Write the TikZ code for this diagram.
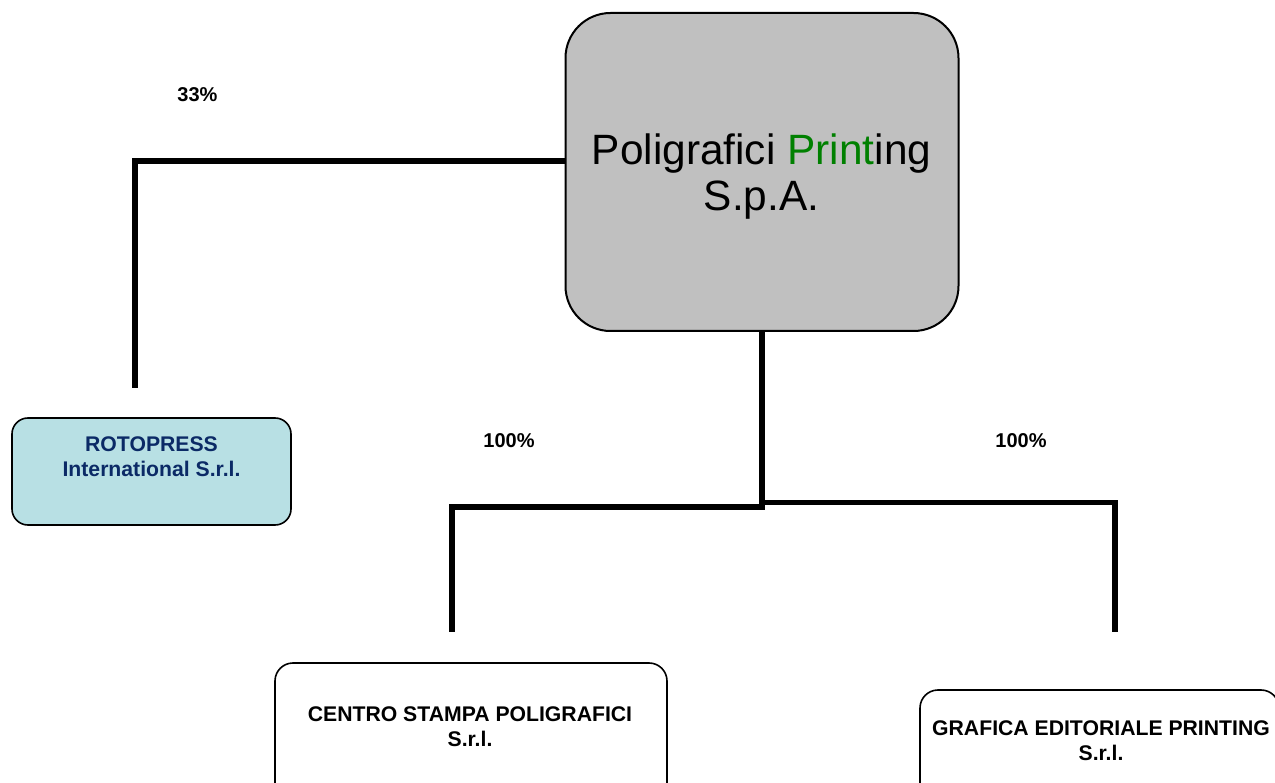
\documentclass[tikz,border=0pt]{standalone}
\usepackage{fontspec}
\setmainfont{Liberation Sans}
\definecolor{boxgray}{HTML}{C0C0C0}
\definecolor{pgreen}{HTML}{008000}
\definecolor{rotofill}{HTML}{B8E0E4}
\definecolor{rototext}{HTML}{0B2A66}
\begin{document}
\begin{tikzpicture}[x=1pt,y=-1pt,
  conn/.style={line width=5.5pt,draw=black},
  orgbox/.style={draw=black,line width=1.6pt,rounded corners=18pt,inner sep=0pt},
  lbl/.style={font=\fontsize{21.2}{25}\selectfont\bfseries,anchor=base,inner sep=0pt,align=center},
  pct/.style={font=\fontsize{20}{24}\selectfont\bfseries,anchor=base,inner sep=0pt}]
\useasboundingbox (0,0) rectangle (1275,783);
\clip (0,0) rectangle (1275,783);
% main box
\node[orgbox,fill=boxgray,rounded corners=45pt,line width=2pt,minimum width=393pt,minimum height=318pt] (main) at (762,172) {};
\node[anchor=base,inner sep=0pt,align=center,font=\fontsize{42.4}{46}\selectfont] (maintext) at (761.5,211) {Poligrafici \textcolor{pgreen}{Print}ing\\S.p.A.};
% rotopress
\node[orgbox,fill=rotofill,rounded corners=16pt,minimum width=279pt,minimum height=107pt] (roto) at (151.5,471.5) {};
\node[lbl,text=rototext] (rototext) at (151.5,477) {ROTOPRESS\\International S.r.l.};
% centro
\node[orgbox,fill=white,minimum width=392pt,minimum height=160pt] (centro) at (471,743) {};
\node[lbl] (centrotext) at (470,746) {CENTRO STAMPA POLIGRAFICI\\S.r.l.};
% grafica
\node[orgbox,fill=white,minimum width=359pt,minimum height=140pt] (grafica) at (1099.5,760) {};
\node[lbl] (graficatext) at (1101,760) {GRAFICA EDITORIALE PRINTING\\S.r.l.};
% percentages
\node[pct] (p33) at (197.5,102) {33\%};
\node[pct] (p100a) at (509,448) {100\%};
\node[pct] (p100b) at (1021,448) {100\%};
% connectors
\coordinate (rotoTop) at (135,388);
\coordinate (centroTop) at (452,632);
\coordinate (graficaTop) at (1115,632);
\coordinate (jl) at (762,507);
\coordinate (jr) at (762,502.5);
\draw[conn] ([yshift=11pt]main.west) -| (rotoTop);
\draw[conn] (main.south) -- ([yshift=-2.75pt]jl);
\draw[conn] ([xshift=2.75pt]jl) -| (centroTop);
\draw[conn] ([xshift=-2.75pt]jr) -| (graficaTop);
\end{tikzpicture}
\end{document}
